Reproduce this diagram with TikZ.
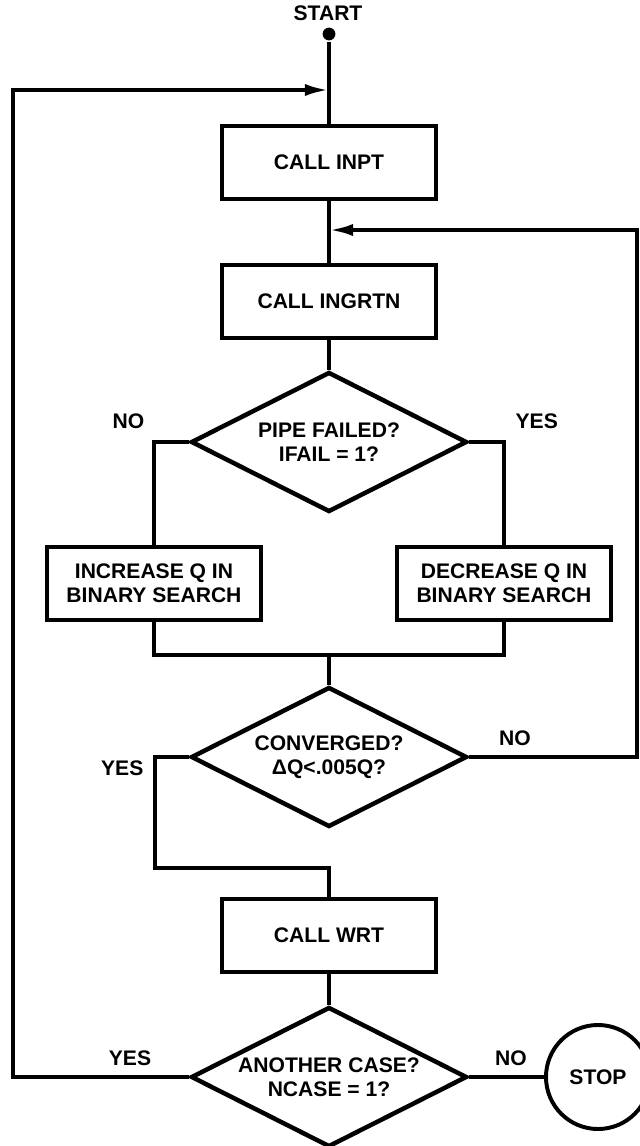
\documentclass[tikz,border=0pt]{standalone}
\usepackage{fontspec}
\setmainfont{Liberation Sans}
\usetikzlibrary{shapes.geometric,arrows.meta}
\begin{document}
\begin{tikzpicture}[x=0.025cm,y=-0.025cm,
	line width=2.8pt, >={Latex[length=6mm,width=3mm]},
	every node/.style={font=\fontsize{15}{17}\selectfont\bfseries},
	boxnode/.style={rectangle,draw,minimum width=5.35cm,minimum height=1.83cm,align=center,inner sep=0pt},
	testnode/.style={diamond,draw,aspect=2,line width=3.2pt,minimum width=6.9cm,minimum height=3.5cm,align=center,inner sep=0pt},
	stopnode/.style={circle,draw,minimum size=2.6cm,inner sep=0pt},
	dotnode/.style={circle,fill,minimum size=0.32cm,inner sep=0pt}
]
\useasboundingbox (0,0) rectangle (639,1146);

% Start
\node[anchor=south] (t) at (328,27) {START};
\node[dotnode] (s) at (329,34) {};

% Ablauf
\node[boxnode] (1) at (329,162.5) {CALL INPT};
\node[boxnode] (2) at (329,301.5) {CALL INGRTN};
\node[testnode] (3) at (329,442) {PIPE FAILED?\\IFAIL = 1?};
\node[boxnode, minimum width=5.33cm] (4) at (154,583.5) {INCREASE Q IN\\BINARY SEARCH};
\node[boxnode, minimum width=5.33cm] (5) at (504,583.5) {DECREASE Q IN\\BINARY SEARCH};
\node[testnode] (6) at (329,757) {CONVERGED?\\ΔQ<.005Q?};
\node[boxnode] (7) at (329,935.5) {CALL WRT};
\node[testnode] (8) at (329,1077) {ANOTHER CASE?\\NCASE = 1?};
\node[stopnode] (9) at (598,1077) {STOP};

% Hilfspunkte
\coordinate (m1) at (329,90);
\coordinate (l1) at (13,90);
\coordinate (m2) at (329,230);
\coordinate (r1) at (637,230);
\coordinate (j) at (329,655);
\coordinate (y1) at (155,868);

\draw (s) -- (1);
\draw (1) -- (2);
\draw (2) -- (3);
\draw (3.west) -| (4.north);
\draw (3.east) -| (5.north);
\draw (4.south) |- (j);
\draw (5.south) |- (j);
\draw (j) -- (6.north);
\draw (6.west) -| (y1) -| (7.north);
\draw (7) -- (8);
\draw (8.east) -- (9);

% Rueckfuehrungen
\draw[->] (6.east) -| (r1) -- (m2);
\draw[->] (8.west) -| (l1) -- (m1);

% Beschriftung
\node[anchor=south east] (n1) at (151,435) {NO};
\node[anchor=south west] (n2) at (509,435) {YES};
\node[anchor=east] (n3) at (150,768) {YES};
\node[anchor=south] (n4) at (515,752) {NO};
\node[anchor=south] (n5) at (130,1072) {YES};
\node[anchor=south] (n6) at (511,1072) {NO};

\end{tikzpicture}
\end{document}
